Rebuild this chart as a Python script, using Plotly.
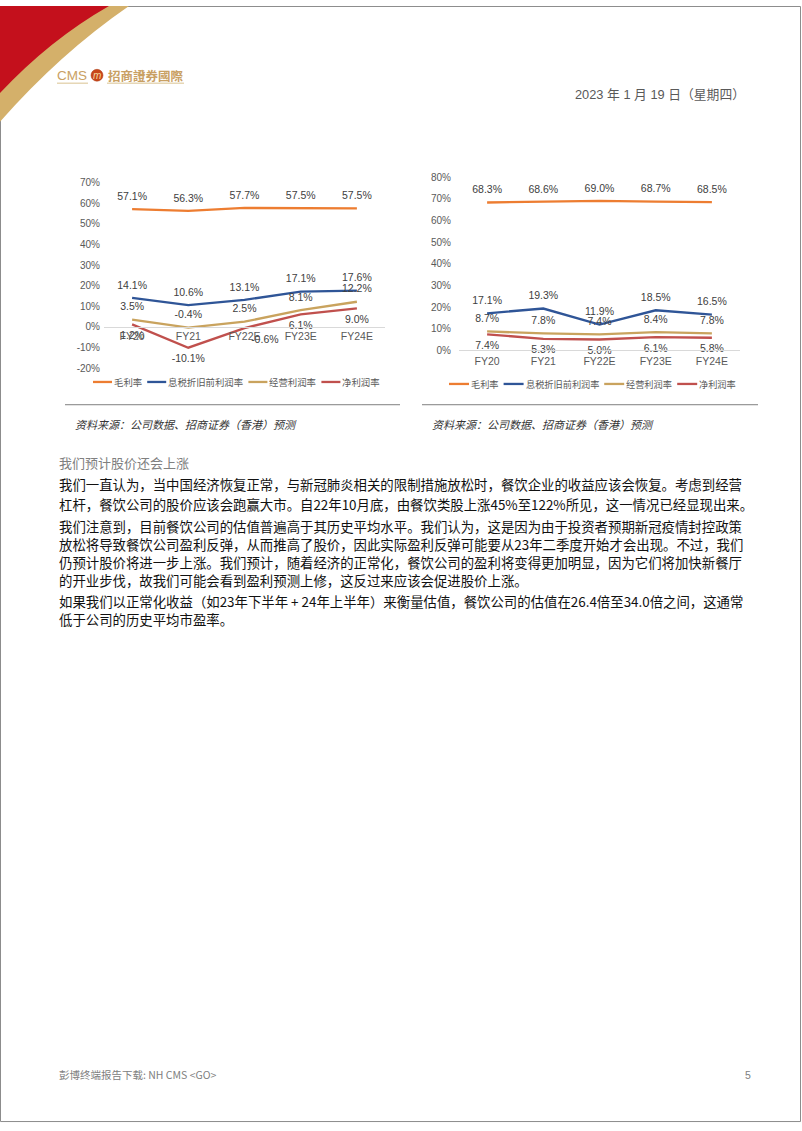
import plotly.graph_objects as go

# ---------------- data ----------------
categories = ["FY20", "FY21", "FY22E", "FY23E", "FY24E"]
series_names = ["毛利率", "息税折旧前利润率", "经营利润率", "净利润率"]

left_gross = [57.1, 56.3, 57.7, 57.5, 57.5]
left_ebitda = [14.1, 10.6, 13.1, 17.1, 17.6]
left_operating = [3.5, -0.4, 2.5, 8.1, 12.2]
left_net = [1.2, -10.1, -0.6, 6.1, 9.0]

right_gross = [68.3, 68.6, 69.0, 68.7, 68.5]
right_ebitda = [17.1, 19.3, 11.9, 18.5, 16.5]
right_operating = [8.7, 7.8, 7.4, 8.4, 7.8]
right_net = [7.4, 5.3, 5.0, 6.1, 5.8]

left_yticks = [-20, -10, 0, 10, 20, 30, 40, 50, 60, 70]
right_yticks = [0, 10, 20, 30, 40, 50, 60, 70, 80]

source_text = "资料来源：公司数据、招商证券（香港）预测"
heading = "我们预计股价还会上涨"
body_lines = [
    "我们一直认为，当中国经济恢复正常，与新冠肺炎相关的限制措施放松时，餐饮企业的收益应该会恢复。考虑到经营",
    "杠杆，餐饮公司的股价应该会跑赢大市。自22年10月底，由餐饮类股上涨45%至122%所见，这一情况已经显现出来。",
    "我们注意到，目前餐饮公司的估值普遍高于其历史平均水平。我们认为，这是因为由于投资者预期新冠疫情封控政策",
    "放松将导致餐饮公司盈利反弹，从而推高了股价，因此实际盈利反弹可能要从23年二季度开始才会出现。不过，我们",
    "仍预计股价将进一步上涨。我们预计，随着经济的正常化，餐饮公司的盈利将变得更加明显，因为它们将加快新餐厅",
    "的开业步伐，故我们可能会看到盈利预测上修，这反过来应该会促进股价上涨。",
    "如果我们以正常化收益（如23年下半年 + 24年上半年）来衡量估值，餐饮公司的估值在26.4倍至34.0倍之间，这通常",
    "低于公司的历史平均市盈率。",
]
date_text = "2023 年 1 月 19 日（星期四）"
footer_text = "彭博终端报告下载: NH CMS &lt;GO&gt;"
page_no = "5"

# ---------------- styling / layout ----------------
W, H = 802, 1131
colors = ["#ED7D31", "#2F5597", "#C9A35E", "#C0504D"]
LAT = "Liberation Sans, Arial, sans-serif"
CJK = "Noto Sans CJK SC, sans-serif"
CJK_TC = "Noto Sans CJK TC, sans-serif"


def dom_x(a, b):
    return [a / W, b / W]


def dom_y(top, bottom):
    return [1 - bottom / H, 1 - top / H]


L_X, L_Y = (104, 385), (178.5, 366)
R_X, R_Y = (459, 740), (173, 348)
left_range = [left_yticks[0], left_yticks[-1]]
right_range = [right_yticks[0], right_yticks[-1]]

fig = go.Figure()


def add_chart(xa, ya, series, positions):
    for name, vals, col, pos in zip(series_names, series, colors, positions):
        fig.add_trace(go.Scatter(
            x=categories, y=vals, name=name,
            mode="lines+markers+text",
            line=dict(color=col, width=2.3),
            marker=dict(size=9, opacity=0, color=col),
            text=[f"{v:.1f}%" for v in vals],
            textposition=pos,
            textfont=dict(family=LAT, size=10.5, color="#404040"),
            xaxis=xa, yaxis=ya, showlegend=False, cliponaxis=False,
        ))


add_chart("x", "y",
          [left_gross, left_ebitda, left_operating, left_net],
          ["top center", "top center", "top center",
           ["bottom center", "bottom center", "bottom right", "bottom center", "bottom center"]])
add_chart("x2", "y2",
          [right_gross, right_ebitda, right_operating, right_net],
          ["top center", "top center", "top center", "bottom center"])

ldom = dom_y(*L_Y)
zero_pos = ldom[0] + (0 - left_range[0]) / (left_range[1] - left_range[0]) * (ldom[1] - ldom[0])

tickfont = dict(family=LAT, size=10, color="#595959")
xcommon = dict(type="category", range=[-0.5, len(categories) - 0.5], showgrid=False,
               zeroline=False, showline=True, linecolor="#D9D9D9", linewidth=1,
               ticks="", tickfont=dict(family=LAT, size=10.5, color="#595959"))
ycommon = dict(showgrid=False, zeroline=False, showline=False, ticks="", tickfont=tickfont)

fig.update_layout(
    width=W, height=H, autosize=False,
    margin=dict(l=0, r=0, t=0, b=0, pad=0),
    paper_bgcolor="white", plot_bgcolor="rgba(0,0,0,0)",
    showlegend=False,
    xaxis=dict(domain=dom_x(*L_X), anchor="free", position=zero_pos,
               ticklabelstandoff=0, **xcommon),
    yaxis=dict(domain=ldom, range=left_range, tickvals=left_yticks,
               ticktext=[f"{v}%" for v in left_yticks], anchor="x",
               ticklabelstandoff=3, **ycommon),
    xaxis2=dict(domain=dom_x(*R_X), anchor="y2", ticklabelstandoff=1, **xcommon),
    yaxis2=dict(domain=dom_y(*R_Y), range=right_range, tickvals=right_yticks,
                ticktext=[f"{v}%" for v in right_yticks], anchor="x2",
                ticklabelstandoff=7, **ycommon),
    # page-level overlay axes in pixel units for decorations and text
    xaxis3=dict(domain=[0, 1], range=[0, W], visible=False, anchor="y3", fixedrange=True),
    yaxis3=dict(domain=[0, 1], range=[H, 0], visible=False, anchor="x3", fixedrange=True),
)

shapes = []
annotations = []


def txt(x, y, s, size, color, family=CJK, xanchor="left", **kw):
    annotations.append(dict(x=x, y=y, xref="x3", yref="y3", text=s, showarrow=False,
                            xanchor=xanchor, yanchor="middle", borderpad=0,
                            font=dict(family=family, size=size, color=color), **kw))


def line(x0, y0, x1, y1, color, width=1):
    shapes.append(dict(type="line", xref="x3", yref="y3", x0=x0, y0=y0, x1=x1, y1=y1,
                       line=dict(color=color, width=width)))


# page border
shapes.append(dict(type="rect", xref="x3", yref="y3", x0=0.5, y0=0.5, x1=800.5, y1=1127.5,
                   line=dict(color="#8C8C8C", width=1), fillcolor="rgba(0,0,0,0)"))
# top-left swoosh
shapes.append(dict(type="path", xref="x3", yref="y3",
                   path="M0,0 L129,0 Q60,48 0,117 Z", fillcolor="#D4B06A", line=dict(width=0)))
shapes.append(dict(type="path", xref="x3", yref="y3",
                   path="M0,0 L109,0 Q50,34 0,88 Z", fillcolor="#C4101C", line=dict(width=0)))

# logo
txt(56, 70, "CMS", 13.5, "#C9A063", family=LAT)
shapes.append(dict(type="circle", xref="x3", yref="y3", x0=91, y0=64, x1=103, y1=76,
                   fillcolor="#C9471A", line=dict(color="#A8360F", width=0.5)))
txt(97, 70, "<i>m</i>", 10, "#F3D9A0", family=LAT, xanchor="center")
txt(107, 70, "<b>招商證券國際</b>", 12.5, "#C9A063", family=CJK_TC)
line(57, 78, 88, 78, "#D9C291", 1)
line(107, 78, 184, 78, "#D9C291", 1)

# date
txt(746, 89, date_text, 12.8, "#595959", family=LAT + ", " + CJK, xanchor="right")

# custom legends
def legend_row(x_start, y, line_len, gap, char_w, item_gap, fsize):
    x = x_start
    for name, col in zip(series_names, colors):
        line(x, y, x + line_len, y, col, 2.3)
        txt(x + line_len + gap - 1, y, name, fsize, "#595959")
        x = x + line_len + gap + len(name) * char_w + item_gap


legend_row(93, 380, 19, 2, 9.4, 5, 9.4)
legend_row(449, 382, 20, 2, 9.2, 5, 9.2)

# source lines
line(65, 403, 400, 403, "#7F7F7F", 1)
line(422, 403, 758, 403, "#7F7F7F", 1)
txt(74, 422, f"<i>{source_text}</i>", 11, "#333333")
txt(431, 422, f"<i>{source_text}</i>", 11, "#333333")

# heading and body
txt(58, 461, heading, 13, "#808080")
body_y = [483, 503, 526, 544, 562, 580, 601, 620]
for yy, s in zip(body_y, body_lines):
    txt(58, yy, s, 13.4, "#111111", family=CJK + ", " + LAT)

# footer
txt(58, 1080, footer_text, 10.5, "#808080", family=CJK)
txt(752, 1080, page_no, 10.5, "#808080", family=LAT, xanchor="right")

fig.update_layout(shapes=shapes, annotations=annotations)

fig.write_html("out.html")
